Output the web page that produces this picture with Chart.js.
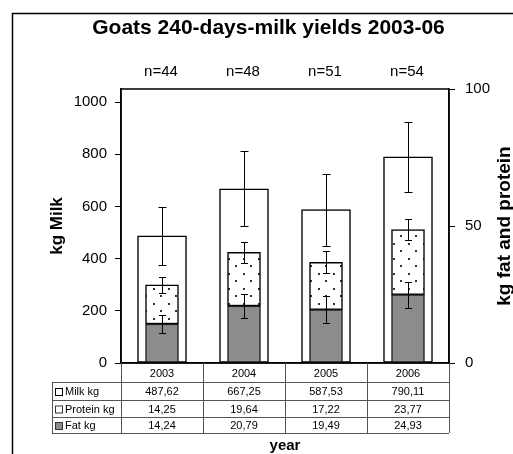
<!DOCTYPE html>
<html>
<head>
<meta charset="utf-8">
<script src="https://cdn.jsdelivr.net/npm/chart.js@4.4.1/dist/chart.umd.min.js"></script>
<style>
  html, body { margin: 0; padding: 0; background: #fff; }
  #wrap { width: 513px; height: 454px; }
</style>
</head>
<body>
<div id="wrap"><canvas id="milkChart"></canvas></div>
<script>
const years = ['2003', '2004', '2005', '2006'];
const herdSize = [44, 48, 51, 54];
const milkKg = [487.62, 667.25, 587.53, 790.11];
const proteinKg = [14.25, 19.64, 17.22, 23.77];
const fatKg = [14.24, 20.79, 19.49, 24.93];
// standard deviations
const milkSd = [112, 144, 138, 135];
const proteinSd = [3.0, 3.9, 4.0, 3.9];
const fatSd = [3.3, 4.5, 5.0, 4.7];
const milkTicks = [0, 200, 400, 600, 800, 1000];
const fatProteinTicks = [0, 50, 100];

const FONT = "'Liberation Sans', Arial, sans-serif";
const FAT_GREY = '#8c8c8c';
Chart.defaults.font.family = FONT;
Chart.defaults.color = '#000';

// white fill with a sparse grid of dots for the protein bars
const makeDots = () => {
    const c = document.createElement('canvas');
    c.width = 15; c.height = 15;
    const g = c.getContext('2d');
    g.fillStyle = '#fff';
    g.fillRect(0, 0, 15, 15);
    g.fillStyle = '#333';
    g.fillRect(3, 3, 2, 2);
    g.fillRect(10, 10, 2, 2);
    return g.createPattern(c, 'repeat');
};

const fmt = v => v.toFixed(2).replace('.', ',');

const chartDecor = {
    id: 'chartDecor',
    beforeDraw(chart) {
        const ctx = chart.ctx;
        ctx.save();
        ctx.fillStyle = '#fff';
        ctx.fillRect(0, 0, chart.width, chart.height);
        ctx.strokeStyle = '#000';
        ctx.lineWidth = 1.5;
        ctx.strokeRect(12.5, 13.5, chart.width + 20, chart.height + 20);
        ctx.restore();
    },
    afterDatasetsDraw(chart) {
        // error bars
        const ctx = chart.ctx;
        ctx.save();
        ctx.strokeStyle = '#000';
        ctx.lineWidth = 1;
        chart.data.datasets.forEach((ds, di) => {
            const meta = chart.getDatasetMeta(di);
            const scale = chart.scales[meta.yAxisID];
            const cap = ds.capWidth / 2;
            meta.data.forEach((bar, i) => {
                const top = scale.getValueForPixel(bar.y);
                const y1 = Math.round(scale.getPixelForValue(top + ds.errors[i])) + 0.5;
                const y2 = Math.round(scale.getPixelForValue(top - ds.errors[i])) + 0.5;
                const x = Math.round(bar.x) + 0.5;
                ctx.beginPath();
                ctx.moveTo(x, y1); ctx.lineTo(x, y2);
                ctx.moveTo(x - cap, y1); ctx.lineTo(x + cap, y1);
                ctx.moveTo(x - cap, y2); ctx.lineTo(x + cap, y2);
                ctx.stroke();
            });
        });
        ctx.restore();
    },
    afterDraw(chart) {
        const ctx = chart.ctx;
        const area = chart.chartArea;
        const xs = chart.scales.x;
        ctx.save();

        // plot frame
        ctx.strokeStyle = '#000';
        ctx.lineWidth = 1.5;
        ctx.strokeRect(area.left, area.top, area.right - area.left, area.bottom - area.top);

        // n= labels
        ctx.fillStyle = '#000';
        ctx.font = '15px ' + FONT;
        ctx.textAlign = 'center';
        ctx.textBaseline = 'middle';
        herdSize.forEach((n, i) => ctx.fillText('n=' + n, xs.getPixelForValue(i) - 1, 72));

        // right axis title, reading upwards
        ctx.save();
        ctx.translate(505, (area.top + area.bottom) / 2);
        ctx.rotate(-Math.PI / 2);
        ctx.font = 'bold 19px ' + FONT;
        ctx.fillText('kg fat and protein', 0, 0);
        ctx.restore();

        // data table
        const half = (xs.getPixelForValue(1) - xs.getPixelForValue(0)) / 2;
        const cols = [xs.getPixelForValue(0) - half].concat(years.map((_, i) => xs.getPixelForValue(i) + half));
        const b = area.bottom;
        const rowsY = [b, b + 19, b + 37, b + 54, b + 70];
        const headLeft = 52;
        const rows = [
            { label: 'Milk kg', values: milkKg, fill: '#fff', edge: '#000' },
            { label: 'Protein kg', values: proteinKg, fill: '#fff', edge: '#333' },
            { label: 'Fat kg', values: fatKg, fill: FAT_GREY, edge: '#333' },
        ];
        ctx.strokeStyle = '#555';
        ctx.lineWidth = 1;
        ctx.beginPath();
        cols.forEach(x => { ctx.moveTo(Math.round(x) + 0.5, b); ctx.lineTo(Math.round(x) + 0.5, rowsY[4]); });
        ctx.moveTo(headLeft + 0.5, rowsY[1]); ctx.lineTo(headLeft + 0.5, rowsY[4]);
        rowsY.slice(1).forEach(y => { ctx.moveTo(headLeft, y + 0.5); ctx.lineTo(cols[4], y + 0.5); });
        ctx.stroke();

        ctx.font = '11px ' + FONT;
        years.forEach((yr, i) => ctx.fillText(yr, xs.getPixelForValue(i), (rowsY[0] + rowsY[1]) / 2 + 1));
        rows.forEach((row, r) => {
            const cy = (rowsY[r + 1] + rowsY[r + 2]) / 2 + 1;
            ctx.fillStyle = row.fill;
            ctx.fillRect(55, cy - 4, 8, 8);
            ctx.strokeStyle = row.edge;
            ctx.strokeRect(55.5, cy - 3.5, 7, 7);
            ctx.fillStyle = '#000';
            ctx.textAlign = 'left';
            ctx.fillText(row.label, 65, cy);
            ctx.textAlign = 'center';
            row.values.forEach((v, i) => ctx.fillText(fmt(v), xs.getPixelForValue(i), cy));
        });

        // x axis title
        ctx.font = 'bold 15px ' + FONT;
        ctx.fillText('year', (area.left + area.right) / 2, 446);
        ctx.restore();
    }
};

const ctx = document.getElementById('milkChart').getContext('2d');
const milkChart = new Chart(ctx, {
    type: 'bar',
    data: {
        labels: years,
        datasets: [
            {
                label: 'Fat kg',
                data: fatKg,
                errors: fatSd,
                capWidth: 7,
                yAxisID: 'y2',
                stack: 'fp',
                order: 1,
                grouped: false,
                backgroundColor: FAT_GREY,
                borderColor: '#222',
                borderWidth: 1.5,
                borderSkipped: false,
                barPercentage: 1,
                categoryPercentage: 1,
                maxBarThickness: 33,
            },
            {
                label: 'Protein kg',
                data: proteinKg,
                errors: proteinSd,
                capWidth: 7,
                yAxisID: 'y2',
                stack: 'fp',
                order: 1,
                grouped: false,
                backgroundColor: makeDots(),
                borderColor: '#000',
                borderWidth: 1.5,
                borderSkipped: false,
                barPercentage: 1,
                categoryPercentage: 1,
                maxBarThickness: 33,
            },
            {
                label: 'Milk kg',
                data: milkKg,
                errors: milkSd,
                capWidth: 8,
                yAxisID: 'y',
                order: 2,
                grouped: false,
                backgroundColor: '#fff',
                borderColor: '#000',
                borderWidth: 1.5,
                borderSkipped: false,
                barPercentage: 1,
                categoryPercentage: 1,
                maxBarThickness: 49,
            },
        ],
    },
    options: {
        responsive: true,
        maintainAspectRatio: false,
        animation: false,
        layout: { padding: { left: 24, right: 0, top: 0, bottom: 0 } },
        plugins: {
            legend: { display: false },
            tooltip: { enabled: false },
            title: {
                display: true,
                text: 'Goats 240-days-milk yields 2003-06',
                color: '#000',
                font: { size: 21, weight: 'bold' },
                padding: { top: 16, bottom: 47.8 },
            },
        },
        scales: {
            x: {
                offset: true,
                grid: { display: false },
                border: { display: true, color: '#000', width: 1.5 },
                ticks: { display: false },
                afterFit: s => { s.height = 91; },
            },
            y: {
                position: 'left',
                min: 0,
                max: 1050,
                afterBuildTicks: s => { s.ticks = milkTicks.map(v => ({ value: v })); },
                afterFit: s => { s.width = 97; },
                grid: { drawOnChartArea: false, drawTicks: true, tickLength: 6, color: '#000' },
                border: { display: true, color: '#000', width: 1.5 },
                ticks: { font: { size: 15 }, color: '#000', padding: 8, callback: v => String(v) },
                title: {
                    display: true,
                    text: 'kg Milk',
                    color: '#000',
                    font: { size: 17, weight: 'bold' },
                    padding: { top: 23, bottom: 0 },
                },
            },
            y2: {
                position: 'right',
                min: 0,
                max: 100,
                stacked: true,
                afterBuildTicks: s => { s.ticks = fatProteinTicks.map(v => ({ value: v })); },
                afterFit: s => { s.width = 64; },
                grid: { drawOnChartArea: false, drawTicks: true, tickLength: 6, color: '#000' },
                border: { display: true, color: '#000', width: 1.5 },
                ticks: { font: { size: 15 }, color: '#000', padding: 10 },
            },
        },
    },
    plugins: [chartDecor],
});
</script>
</body>
</html>
